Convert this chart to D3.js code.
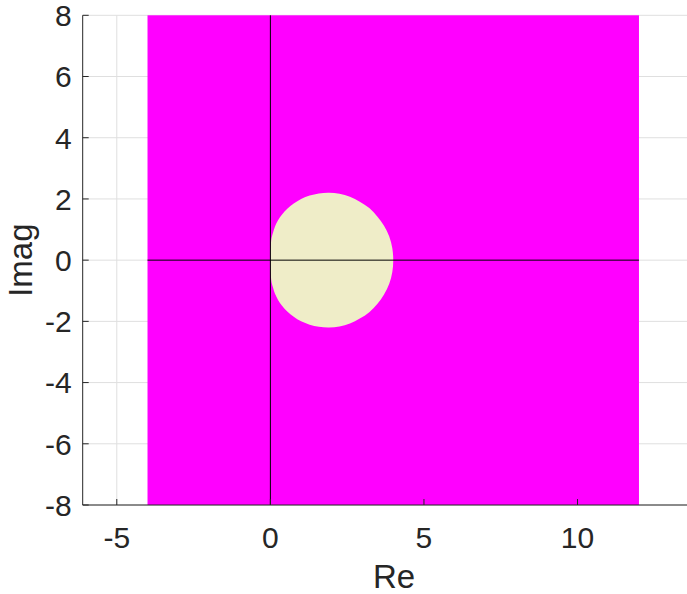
<!DOCTYPE html>
<html lang="en">
<head>
    <meta charset="UTF-8">
    <title>Stability region</title>
    <script src="https://cdnjs.cloudflare.com/ajax/libs/d3/7.8.5/d3.min.js"></script>
    <style>
        body { margin: 0; background: #fff; }
        svg { display: block; }
        .tick-label { font-family: 'Liberation Sans', Arial, sans-serif; font-size: 30px; fill: #262626; }
        .axis-label { font-family: 'Liberation Sans', Arial, sans-serif; font-size: 33px; fill: #262626; }
    </style>
</head>
<body>
    <div id="chart"></div>
    <script>
        // tick values
        const xTicks = [-5, 0, 5, 10];
        const yTicks = [-8, -6, -4, -2, 0, 2, 4, 6, 8];

        // magenta rectangle (region), in Re / Imag units
        const rectRe = [-4, 12];
        const rectIm = [-8, 8];

        // boundary of the cream region (upper half, then lower half)
        const boundaryRe = [0.00, 0.00, 0.01, 0.02, 0.04, 0.09, 0.15, 0.25, 0.38, 0.55, 0.76, 1.00, 1.28, 1.58, 1.91, 2.25, 2.59, 2.91, 3.22, 3.48, 3.70, 3.87, 3.97, 4.00,
                            3.97, 3.87, 3.70, 3.48, 3.22, 2.91, 2.59, 2.25, 1.91, 1.58, 1.28, 1.00, 0.76, 0.55, 0.38, 0.25, 0.15, 0.09, 0.04, 0.02, 0.01, 0.00];
        const boundaryIm = [0.00, 0.27, 0.41, 0.57, 0.73, 0.91, 1.10, 1.30, 1.49, 1.68, 1.85, 2.00, 2.11, 2.18, 2.20, 2.17, 2.07, 1.91, 1.70, 1.43, 1.12, 0.77, 0.39, 0.00,
                            -0.39, -0.77, -1.12, -1.43, -1.70, -1.91, -2.07, -2.17, -2.20, -2.18, -2.11, -2.00, -1.85, -1.68, -1.49, -1.30, -1.10, -0.91, -0.73, -0.57, -0.41, -0.27];

        function renderChart() {
            const W = 687, H = 594;
            const plotLeft = 82.7, plotBottom = 505, plotTop = 15.3;

            const svg = d3.select('#chart').append('svg')
                .attr('width', W)
                .attr('height', H);

            const x = d3.scaleLinear().domain([-6.11, 14.14]).range([plotLeft, 704.7]);
            const y = d3.scaleLinear().domain([-8, 8]).range([plotBottom, plotTop]);

            // grid
            const grid = svg.append('g').attr('stroke', '#dfdfdf').attr('stroke-width', 1);
            grid.selectAll('.gx').data(xTicks).enter().append('line')
                .attr('x1', d => x(d)).attr('x2', d => x(d))
                .attr('y1', plotTop).attr('y2', plotBottom);
            grid.selectAll('.gy').data(yTicks).enter().append('line')
                .attr('x1', plotLeft).attr('x2', W + 20)
                .attr('y1', d => y(d)).attr('y2', d => y(d));

            // magenta region
            svg.append('rect')
                .attr('x', x(rectRe[0]))
                .attr('y', y(rectIm[1]))
                .attr('width', x(rectRe[1]) - x(rectRe[0]))
                .attr('height', y(rectIm[0]) - y(rectIm[1]))
                .attr('fill', '#ff00ff');

            // cream region
            const pts = boundaryRe.map((r, i) => [x(r), y(boundaryIm[i])]);
            svg.append('path')
                .attr('d', d3.line().curve(d3.curveCatmullRomClosed)(pts))
                .attr('fill', '#efedc8');

            // black Re / Imag lines
            svg.append('line')
                .attr('x1', x(rectRe[0])).attr('x2', x(rectRe[1]))
                .attr('y1', y(0)).attr('y2', y(0))
                .attr('stroke', '#000').attr('stroke-width', 1);
            svg.append('line')
                .attr('x1', x(0)).attr('x2', x(0))
                .attr('y1', y(rectIm[0])).attr('y2', y(rectIm[1]))
                .attr('stroke', '#000').attr('stroke-width', 1);

            // axes (left + bottom only, inward ticks)
            const ax = svg.append('g').attr('stroke', '#262626').attr('stroke-width', 1);
            ax.append('line').attr('x1', plotLeft).attr('x2', plotLeft).attr('y1', plotTop).attr('y2', plotBottom);
            ax.append('line').attr('x1', plotLeft).attr('x2', W + 20).attr('y1', plotBottom).attr('y2', plotBottom);
            ax.selectAll('.ty').data(yTicks).enter().append('line')
                .attr('x1', plotLeft).attr('x2', plotLeft + 6)
                .attr('y1', d => y(d)).attr('y2', d => y(d));
            ax.selectAll('.tx').data(xTicks).enter().append('line')
                .attr('x1', d => x(d)).attr('x2', d => x(d))
                .attr('y1', plotBottom).attr('y2', plotBottom - 6);

            svg.selectAll('.ylab').data(yTicks).enter().append('text')
                .attr('class', 'tick-label')
                .attr('x', plotLeft - 11)
                .attr('y', d => y(d))
                .attr('dy', '0.36em')
                .attr('text-anchor', 'end')
                .text(d => d);

            svg.selectAll('.xlab').data(xTicks).enter().append('text')
                .attr('class', 'tick-label')
                .attr('x', d => x(d))
                .attr('y', 548)
                .attr('text-anchor', 'middle')
                .text(d => d);

            svg.append('text')
                .attr('class', 'axis-label')
                .attr('x', 394)
                .attr('y', 588)
                .attr('text-anchor', 'middle')
                .text('Re');

            svg.append('text')
                .attr('class', 'axis-label')
                .attr('transform', `translate(31.5,${y(0)}) rotate(-90)`)
                .attr('text-anchor', 'middle')
                .text('Imag');
        }

        renderChart();
    </script>
</body>
</html>
